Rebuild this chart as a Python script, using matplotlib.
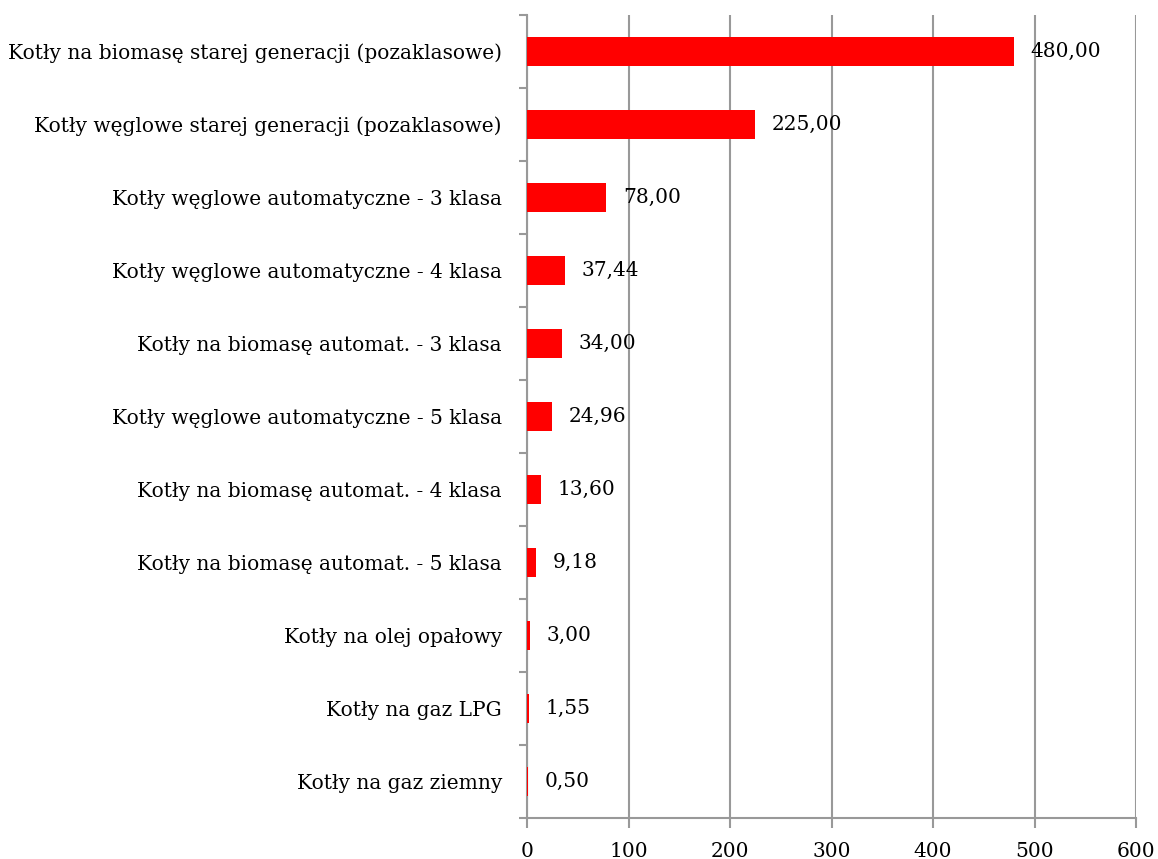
import numpy as np
import matplotlib
matplotlib.use('Agg')
import matplotlib.pyplot as plt

categories = [
    'Kotły na biomasę starej generacji (pozaklasowe)',
    'Kotły węglowe starej generacji (pozaklasowe)',
    'Kotły węglowe automatyczne - 3 klasa',
    'Kotły węglowe automatyczne - 4 klasa',
    'Kotły na biomasę automat. - 3 klasa',
    'Kotły węglowe automatyczne - 5 klasa',
    'Kotły na biomasę automat. - 4 klasa',
    'Kotły na biomasę automat. - 5 klasa',
    'Kotły na olej opałowy',
    'Kotły na gaz LPG',
    'Kotły na gaz ziemny',
]
values = [480.00, 225.00, 78.00, 37.44, 34.00, 24.96, 13.60, 9.18, 3.00, 1.55, 0.50]
xticks = [0, 100, 200, 300, 400, 500, 600]

plt.rcParams['font.family'] = ['DejaVu Serif']
grid_col = '#999999'
fs = 14.5

fig = plt.figure(figsize=(11.58, 8.59), dpi=100)
ax = fig.add_axes([527 / 1158, 1 - 818 / 859, (1136 - 527) / 1158, (818 - 15) / 859])

n = len(categories)
y = np.arange(n)
ax.barh(y, values, height=0.4, color='#ff0000', zorder=3)
for yi, v in zip(y, values):
    ax.annotate(f'{v:.2f}'.replace('.', ','), (v, yi), xytext=(12, 0),
                textcoords='offset points', va='center', ha='left', fontsize=fs)

ax.set_xlim(0, 600)
ax.set_ylim(n - 0.5, -0.5)
ax.set_xticks(xticks)
ax.set_xticklabels([str(t) for t in xticks], fontsize=fs)
ax.set_yticks(y)
ax.set_yticklabels(categories, fontsize=fs)
ax.set_yticks(np.arange(-0.5, n, 1), minor=True)
ax.tick_params(axis='y', which='major', length=0, pad=18)
ax.tick_params(axis='y', which='minor', length=6, color=grid_col, width=1.5, direction='out')
ax.tick_params(axis='x', length=7, color=grid_col, width=1.5, pad=10)
ax.grid(axis='x', color=grid_col, linewidth=1.5, zorder=0)
for s in ['top', 'right']:
    ax.spines[s].set_visible(False)
for s in ['left', 'bottom']:
    ax.spines[s].set_color(grid_col)
    ax.spines[s].set_linewidth(1.5)

fig.savefig('out.png', dpi=100)
